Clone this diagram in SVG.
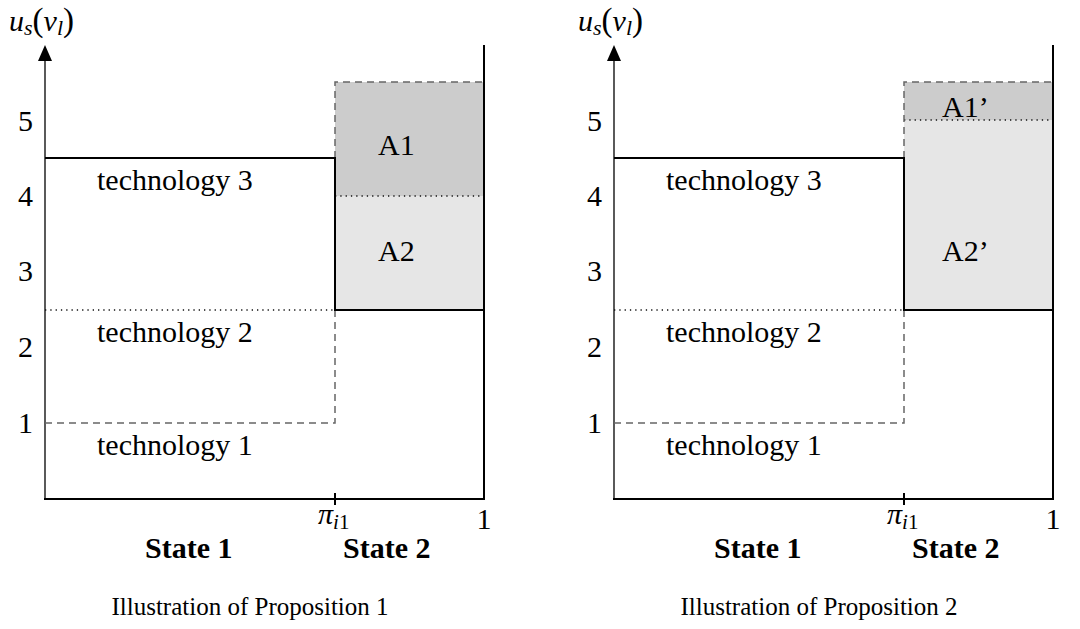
<svg xmlns="http://www.w3.org/2000/svg" width="1080" height="629" viewBox="0 0 1080 629">
  <style>
    .lbl { font-family: "Liberation Serif", "Times New Roman", serif; font-size: 30px; fill: #000; }
    .num { font-family: "Liberation Serif", "Times New Roman", serif; font-size: 30px; text-anchor: middle; fill: #000; }
    .bold { font-family: "Liberation Serif", "Times New Roman", serif; font-size: 30px; font-weight: bold; fill: #000; }
    .cap { font-family: "Liberation Serif", "Times New Roman", serif; font-size: 25px; text-anchor: middle; fill: #000; }
    .it { font-style: italic; }
    .solid { stroke: #000; stroke-width: 2; fill: none; }
    .axis { stroke: #000; stroke-width: 1.3; fill: none; }
    .dash { stroke: #666; stroke-width: 1.5; stroke-dasharray: 7 5; fill: none; }
    .dot { stroke: #111; stroke-width: 1.3; stroke-dasharray: 1.3 4; fill: none; }
    .dark { fill: #cccccc; }
    .light { fill: #e6e6e6; }
  </style>

  <!-- Proposition 1 -->
  <g id="prop1">
    <rect id="area-a1" class="dark" x="335" y="82" width="149" height="114"/>
    <rect id="area-a2" class="light" x="335" y="196" width="149" height="114"/>
    <line class="dot" x1="335" y1="196" x2="484" y2="196"/>
    <g id="axes1">
      <line class="axis" x1="45" y1="60" x2="45" y2="499"/>
      <polygon points="45,45 38,61 52,61" fill="#000"/>
      <line class="solid" x1="484" y1="45" x2="484" y2="500"/>
      <line class="solid" x1="44" y1="499" x2="485" y2="499"/>
      <line class="solid" x1="335" y1="493" x2="335" y2="505"/>
    </g>
    <g id="steps1">
      <line class="dot" x1="45" y1="310" x2="335" y2="310"/>
      <polyline class="dash" points="45,423 335,423 335,310"/>
      <polyline class="dash" points="335,158 335,82 484,82"/>
      <polyline class="solid" points="45,158 335,158 335,310 484,310"/>
    </g>
    <text x="9" y="31" class="lbl" font-size="31"><tspan class="it">u</tspan><tspan class="it" font-size="22" dy="4">s</tspan><tspan dy="-4" font-size="33">(</tspan><tspan class="it">v</tspan><tspan class="it" font-size="22" dy="4">l</tspan><tspan dy="-4" font-size="33">)</tspan></text>
    <text x="25.5" y="131" class="num">5</text>
    <text x="25.5" y="206" class="num">4</text>
    <text x="25.5" y="281" class="num">3</text>
    <text x="25.5" y="357" class="num">2</text>
    <text x="25.5" y="433" class="num">1</text>
    <text x="318" y="524" class="lbl"><tspan class="it">π</tspan><tspan font-size="21" dy="5"><tspan class="it">i</tspan>1</tspan></text>
    <text x="484" y="529" class="num">1</text>
    <text x="145" y="558" class="bold">State 1</text>
    <text x="343" y="558" class="bold">State 2</text>
    <text x="97" y="190" class="lbl">technology 3</text>
    <text x="97" y="342" class="lbl">technology 2</text>
    <text x="97" y="455" class="lbl">technology 1</text>
    <text x="378" y="155" class="lbl">A1</text>
    <text x="378" y="261" class="lbl">A2</text>
    <text x="250" y="615" class="cap">Illustration of Proposition 1</text>
  </g>

  <!-- Proposition 2 -->
  <g id="prop2" transform="translate(569,0)">
    <rect id="area-a1p" class="dark" x="335" y="82" width="149" height="38"/>
    <rect id="area-a2p" class="light" x="335" y="120" width="149" height="190"/>
    <line class="dot" x1="335" y1="120" x2="484" y2="120"/>
    <g id="axes2">
      <line class="axis" x1="45" y1="60" x2="45" y2="499"/>
      <polygon points="45,45 38,61 52,61" fill="#000"/>
      <line class="solid" x1="484" y1="45" x2="484" y2="500"/>
      <line class="solid" x1="44" y1="499" x2="485" y2="499"/>
      <line class="solid" x1="335" y1="493" x2="335" y2="505"/>
    </g>
    <g id="steps2">
      <line class="dot" x1="45" y1="310" x2="335" y2="310"/>
      <polyline class="dash" points="45,423 335,423 335,310"/>
      <polyline class="dash" points="335,158 335,82 484,82"/>
      <polyline class="solid" points="45,158 335,158 335,310 484,310"/>
    </g>
    <text x="9" y="31" class="lbl" font-size="31"><tspan class="it">u</tspan><tspan class="it" font-size="22" dy="4">s</tspan><tspan dy="-4" font-size="33">(</tspan><tspan class="it">v</tspan><tspan class="it" font-size="22" dy="4">l</tspan><tspan dy="-4" font-size="33">)</tspan></text>
    <text x="25.5" y="131" class="num">5</text>
    <text x="25.5" y="206" class="num">4</text>
    <text x="25.5" y="281" class="num">3</text>
    <text x="25.5" y="357" class="num">2</text>
    <text x="25.5" y="433" class="num">1</text>
    <text x="318" y="524" class="lbl"><tspan class="it">π</tspan><tspan font-size="21" dy="5"><tspan class="it">i</tspan>1</tspan></text>
    <text x="484" y="529" class="num">1</text>
    <text x="145" y="558" class="bold">State 1</text>
    <text x="343" y="558" class="bold">State 2</text>
    <text x="97" y="190" class="lbl">technology 3</text>
    <text x="97" y="342" class="lbl">technology 2</text>
    <text x="97" y="455" class="lbl">technology 1</text>
    <text x="373" y="117" class="lbl">A1’</text>
    <text x="373" y="261" class="lbl">A2’</text>
    <text x="250" y="615" class="cap">Illustration of Proposition 2</text>
  </g>
</svg>
